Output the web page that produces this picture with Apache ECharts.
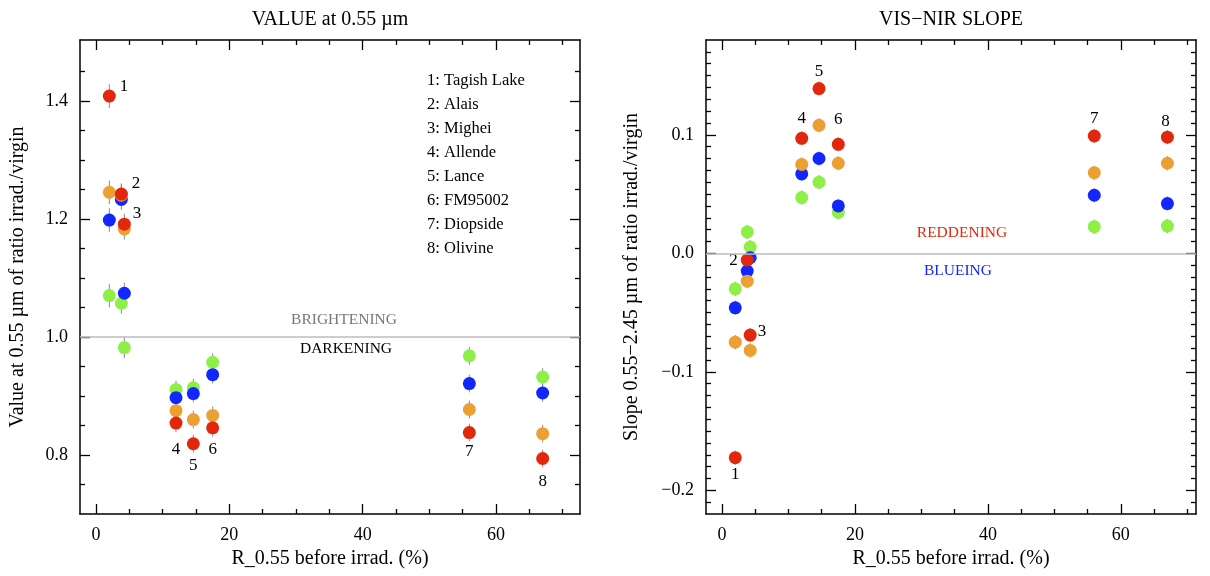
<!DOCTYPE html>
<html>
<head>
<meta charset="utf-8">
<script src="https://cdn.jsdelivr.net/npm/echarts@6/dist/echarts.min.js"></script>
<style>
  html, body { margin: 0; padding: 0; background: #fff; }
  #chart { width: 1210px; height: 576px; }
</style>
</head>
<body>
<div id="chart"></div>
<script>
// samples, numbered 1..8 on the plots
const samples = ['Tagish Lake', 'Alais', 'Mighei', 'Allende', 'Lance', 'FM95002', 'Diopside', 'Olivine'];
// reflectance at 0.55 um before irradiation (%)
const reflect = [2.0, 3.8, 4.25, 12.0, 14.6, 17.5, 56.0, 67.0];

// left panel: value at 0.55 um, ratio irrad./virgin
const valRed    = [1.408, 1.242, 1.191, 0.854, 0.819, 0.846, 0.838, 0.794];
const valOrange = [1.245, 1.240, 1.183, 0.875, 0.860, 0.867, 0.877, 0.836];
const valBlue   = [1.198, 1.233, 1.074, 0.897, 0.904, 0.936, 0.921, 0.905];
const valGreen  = [1.070, 1.057, 0.982, 0.911, 0.914, 0.957, 0.968, 0.932];
const valErr    = [0.020, 0.018, 0.018, 0.015, 0.015, 0.015, 0.015, 0.015];

// right panel: slope 0.55-2.45 um, ratio irrad./virgin
const slopeRed    = [-0.1725, -0.0057, -0.069, 0.097, 0.139, 0.092, 0.099, 0.098];
const slopeOrange = [-0.075, -0.0235, -0.082, 0.075, 0.108, 0.076, 0.068, 0.076];
const slopeBlue   = [-0.046, -0.015, -0.0037, 0.067, 0.080, 0.040, 0.049, 0.042];
const slopeGreen  = [-0.030, 0.018, 0.0053, 0.047, 0.060, 0.0346, 0.0225, 0.023];
const slopeErr    = [0.006, 0.006, 0.006, 0.006, 0.006, 0.006, 0.006, 0.006];

// tick values
const xMajor = [0, 20, 40, 60];
const xMinor = [5, 10, 15, 25, 30, 35, 45, 50, 55, 65, 70];
const valMajor = [0.8, 1.0, 1.2, 1.4];
const valMinor = [0.75, 0.85, 0.9, 0.95, 1.05, 1.1, 1.15, 1.25, 1.3, 1.35, 1.45];
const slopeMajor = [-0.2, -0.1, 0.0, 0.1];
const slopeMinor = [];
for (let k = -21; k <= 17; k++) { if (k % 10 !== 0) slopeMinor.push(k / 100); }

const FONT = 'Liberation Serif';
const colors = { red: '#e2280c', orange: '#eda032', blue: '#1226ff', green: '#8ef046' };

// label placement for the sample numbers (next to the red dots)
const leftLab = [
  { position: 'right', offset: [-1, -10] },
  { position: 'right', offset: [-1, -11] },
  { position: 'right', offset: [-3, -11] },
  { position: 'bottom', offset: [0, 6] },
  { position: 'bottom', offset: [0, 2] },
  { position: 'bottom', offset: [0, 2] },
  { position: 'bottom', offset: [0, -1] },
  { position: 'bottom', offset: [0, 3] }
];
const rightLab = [
  { position: 'bottom', offset: [0, -3] },
  { position: 'left', offset: [2, 0] },
  { position: 'right', offset: [-4, -4] },
  { position: 'top', offset: [0, 0] },
  { position: 'top', offset: [0, 3] },
  { position: 'top', offset: [0, -5] },
  { position: 'top', offset: [0, 3] },
  { position: 'top', offset: [-2, 4] }
];

const tickLine = { color: '#000', width: 1.3 };
const oneDec = v => v.toFixed(1).replace('-', '\u2212');

function axisSet(dim, grid, min, max, major, minor, name, gap) {
  const base = { type: 'value', gridIndex: grid, min: min, max: max, splitLine: { show: false } };
  const sideA = dim === 'x' ? 'bottom' : 'left';
  const sideB = dim === 'x' ? 'top' : 'right';
  return [
    Object.assign({}, base, {
      position: sideA,
      name: name, nameLocation: 'middle', nameGap: gap,
      nameTextStyle: { fontFamily: FONT, fontSize: 20, color: '#000' },
      axisLine: { onZero: false, lineStyle: { color: '#000', width: 1.5 } },
      axisTick: { inside: true, length: 10, customValues: major, lineStyle: tickLine },
      axisLabel: { customValues: major, margin: 12, fontFamily: FONT, fontSize: 18, color: '#000',
                   formatter: dim === 'y' ? oneDec : null }
    }),
    Object.assign({}, base, {
      position: sideA,
      axisLine: { show: false, onZero: false },
      axisTick: { inside: true, length: 5, customValues: minor, lineStyle: tickLine },
      axisLabel: { show: false }
    }),
    Object.assign({}, base, {
      position: sideB,
      axisLine: { onZero: false, lineStyle: { color: '#000', width: 1.5 } },
      axisTick: { inside: true, length: 10, customValues: major, lineStyle: tickLine },
      axisLabel: { show: false }
    }),
    Object.assign({}, base, {
      position: sideB,
      axisLine: { show: false, onZero: false },
      axisTick: { inside: true, length: 5, customValues: minor, lineStyle: tickLine },
      axisLabel: { show: false }
    })
  ];
}

function errBars(grid, vals, err) {
  return {
    type: 'custom', xAxisIndex: grid * 4, yAxisIndex: grid * 4, silent: true, z: 1,
    encode: { x: 0, y: [1, 2] },
    data: reflect.map((x, i) => [x, vals[i] - err[i], vals[i] + err[i]]),
    renderItem: function (params, api) {
      const lo = api.coord([api.value(0), api.value(1)]);
      const hi = api.coord([api.value(0), api.value(2)]);
      return { type: 'line', shape: { x1: lo[0], y1: lo[1], x2: hi[0], y2: hi[1] },
               style: { stroke: '#8a8a8a', lineWidth: 1 } };
    }
  };
}

function dots(grid, vals, color, labels) {
  return {
    type: 'scatter', xAxisIndex: grid * 4, yAxisIndex: grid * 4, silent: true, z: 3,
    symbolSize: 13,
    itemStyle: { color: color, opacity: 1 },
    data: reflect.map((x, i) => {
      const item = { value: [x, vals[i]] };
      if (labels) {
        item.label = {
          show: true, formatter: String(i + 1),
          position: labels[i].position, offset: labels[i].offset, distance: 5,
          fontFamily: FONT, fontSize: 17, color: '#000'
        };
      }
      return item;
    })
  };
}

function refLine(grid, y) {
  return {
    type: 'line', xAxisIndex: grid * 4, yAxisIndex: grid * 4, data: [], silent: true, z: 0,
    markLine: {
      silent: true, symbol: 'none', label: { show: false },
      lineStyle: { color: '#bdbdbd', width: 1.5, type: 'solid' },
      data: [{ yAxis: y }]
    }
  };
}

function txt(x, y, text, size, color, align) {
  return { type: 'text', x: x, y: y, silent: true,
    style: { text: text, fontFamily: FONT, fontSize: size, fill: color,
             align: align || 'center', verticalAlign: 'middle' } };
}

const graphics = [
  txt(330, 20, 'VALUE at 0.55 µm', 20, '#000'),
  txt(951, 20, 'VIS\u2212NIR SLOPE', 20, '#000'),
  txt(344, 320, 'BRIGHTENING', 15.5, '#777'),
  txt(346, 349, 'DARKENING', 15.5, '#000'),
  txt(962, 233, 'REDDENING', 15.5, colors.red),
  txt(958, 271, 'BLUEING', 15.5, colors.blue)
];
samples.forEach((s, i) => {
  graphics.push(txt(427, 81 + i * 23.9, (i + 1) + ': ' + s, 16.5, '#000', 'left'));
});

const chart = echarts.init(document.getElementById('chart'), null, { renderer: 'canvas' });
chart.setOption({
  backgroundColor: '#fff',
  animation: false,
  grid: [
    { left: 80, top: 40, width: 500, bottom: 62 },
    { left: 706, top: 40, width: 490, bottom: 62 }
  ],
  xAxis: [].concat(
    axisSet('x', 0, -2.4, 72.6, xMajor, xMinor, 'R_0.55 before irrad. (%)', 32),
    axisSet('x', 1, -2.4, 71.3, xMajor, xMinor, 'R_0.55 before irrad. (%)', 32)
  ),
  yAxis: [].concat(
    axisSet('y', 0, 0.7, 1.503, valMajor, valMinor, 'Value at 0.55 µm of ratio irrad./virgin', 52),
    axisSet('y', 1, -0.22, 0.18, slopeMajor, slopeMinor, 'Slope 0.55\u22122.45 µm of ratio irrad./virgin', 64)
  ),
  graphic: graphics,
  series: [
    refLine(0, 1.0),
    refLine(1, 0.0),
    errBars(0, valGreen, valErr), errBars(0, valBlue, valErr),
    errBars(0, valOrange, valErr), errBars(0, valRed, valErr),
    errBars(1, slopeGreen, slopeErr), errBars(1, slopeBlue, slopeErr),
    errBars(1, slopeOrange, slopeErr), errBars(1, slopeRed, slopeErr),
    dots(0, valGreen, colors.green), dots(0, valBlue, colors.blue),
    dots(0, valOrange, colors.orange), dots(0, valRed, colors.red, leftLab),
    dots(1, slopeGreen, colors.green), dots(1, slopeBlue, colors.blue),
    dots(1, slopeOrange, colors.orange), dots(1, slopeRed, colors.red, rightLab)
  ]
});
</script>
</body>
</html>
